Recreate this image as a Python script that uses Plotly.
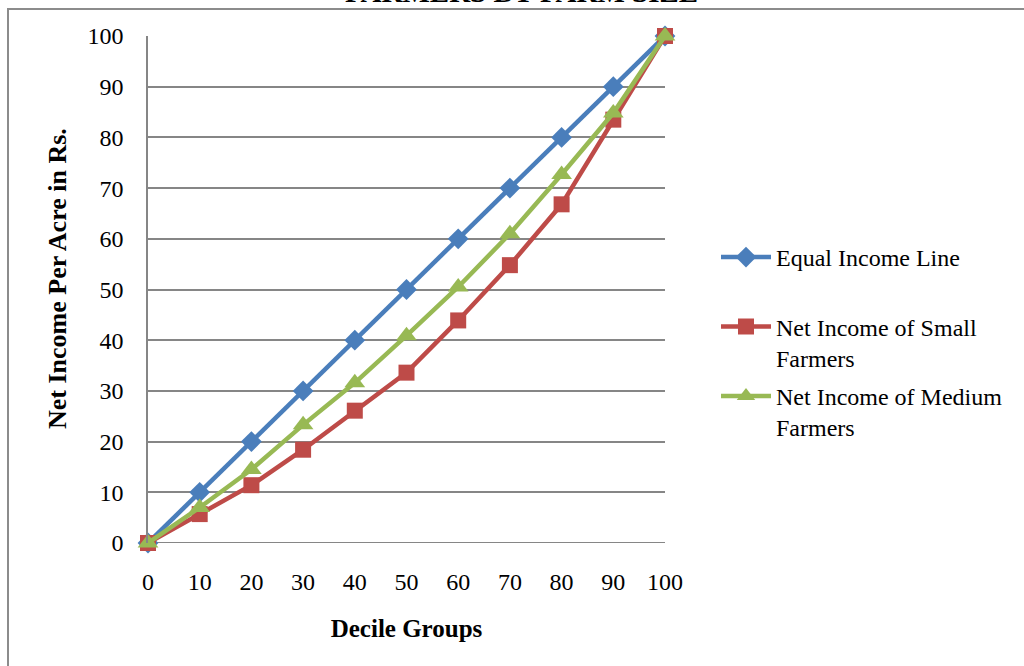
import plotly.graph_objects as go

# Decile groups (cumulative % of farmers) and cumulative % of net income per acre
deciles = [0, 10, 20, 30, 40, 50, 60, 70, 80, 90, 100]
equal_income = [0, 10, 20, 30, 40, 50, 60, 70, 80, 90, 100]
small_farmers = [0, 5.7, 11.4, 18.4, 26.1, 33.6, 43.9, 54.8, 66.8, 83.5, 100]
medium_farmers = [0, 7.0, 14.5, 23.3, 31.6, 40.9, 50.5, 61.0, 72.7, 84.8, 100]

y_ticks = [0, 10, 20, 30, 40, 50, 60, 70, 80, 90, 100]

FONT = "Liberation Serif, Times New Roman, serif"
GRID = "#868686"

# every legend entry takes two lines so the entries sit evenly spaced
series = [
    ("Equal Income Line<br> ", equal_income, "#4A7EBB", "diamond", 16),
    ("Net Income of Small<br>Farmers", small_farmers, "#BE4B48", "square", 16),
    ("Net Income of Medium<br>Farmers", medium_farmers, "#98B954", "triangle-up", 18),
]

fig = go.Figure()
for i, (name, vals, color, sym, size) in enumerate(series):
    fig.add_trace(go.Scatter(
        x=deciles, y=vals, name=name, mode="lines+markers",
        line=dict(color=color, width=4.5),
        marker=dict(symbol=sym, size=size, color=color, line=dict(width=0)),
        legendgroup=f"g{i}", cliponaxis=False,
    ))

L, R, T, B = 148, 359, 36, 123
W, H = 1024, 666
pw, ph = W - L - R, H - T - B

def px_x(p):
    return (p - L) / pw

def px_y(p):
    return (H - B - p) / ph

fig.update_layout(
    width=W, height=H,
    margin=dict(l=L, r=R, t=T, b=B, pad=0),
    paper_bgcolor="white", plot_bgcolor="white",
    font=dict(family=FONT, size=24, color="black"),
    showlegend=True,
    legend=dict(
        x=px_x(716), y=px_y(235), xanchor="left", yanchor="top",
        font=dict(family=FONT, size=24, color="black"),
        traceorder="grouped", tracegroupgap=4, valign="top",
        itemwidth=50, bgcolor="rgba(0,0,0,0)",
    ),
    xaxis=dict(
        range=[0, 100], tickvals=deciles, ticktext=[str(d) for d in deciles],
        showgrid=False, zeroline=False, showline=False,
        ticks="", ticklabelstandoff=22,
        title=dict(text="<b>Decile Groups</b>", standoff=25,
                   font=dict(family=FONT, size=25)),
        fixedrange=True,
    ),
    yaxis=dict(
        range=[0, 100], tickvals=y_ticks, ticktext=[str(v) for v in y_ticks],
        showgrid=True, gridcolor=GRID, gridwidth=1.5,
        zeroline=False, showline=True, linecolor=GRID, linewidth=1.5,
        ticks="", ticklabelstandoff=18,
        fixedrange=True,
    ),
    shapes=[
        # outer chart frame
        dict(type="rect", xref="paper", yref="paper",
             x0=px_x(8), x1=px_x(1040), y0=px_y(680), y1=px_y(9),
             line=dict(color="#8C8C8C", width=2), fillcolor="rgba(0,0,0,0)",
             layer="below"),
        # baseline at zero
        dict(type="line", xref="paper", yref="y", x0=0, x1=1, y0=0, y1=0,
             line=dict(color=GRID, width=2), layer="below"),
    ],
    annotations=[
        dict(text="<b>FARMERS BY FARM SIZE</b>", xref="paper", yref="paper",
             x=px_x(521), y=px_y(10), xanchor="center", yanchor="bottom",
             showarrow=False, font=dict(family=FONT, size=29, color="black")),
        # vertical axis title
        dict(text="<b>Net Income Per Acre in Rs.</b>", xref="paper", yref="paper",
             x=px_x(57), y=px_y(279), xanchor="center", yanchor="middle",
             textangle=-90, showarrow=False,
             font=dict(family=FONT, size=26, color="black")),
    ],
)

fig.write_html("out.html")
